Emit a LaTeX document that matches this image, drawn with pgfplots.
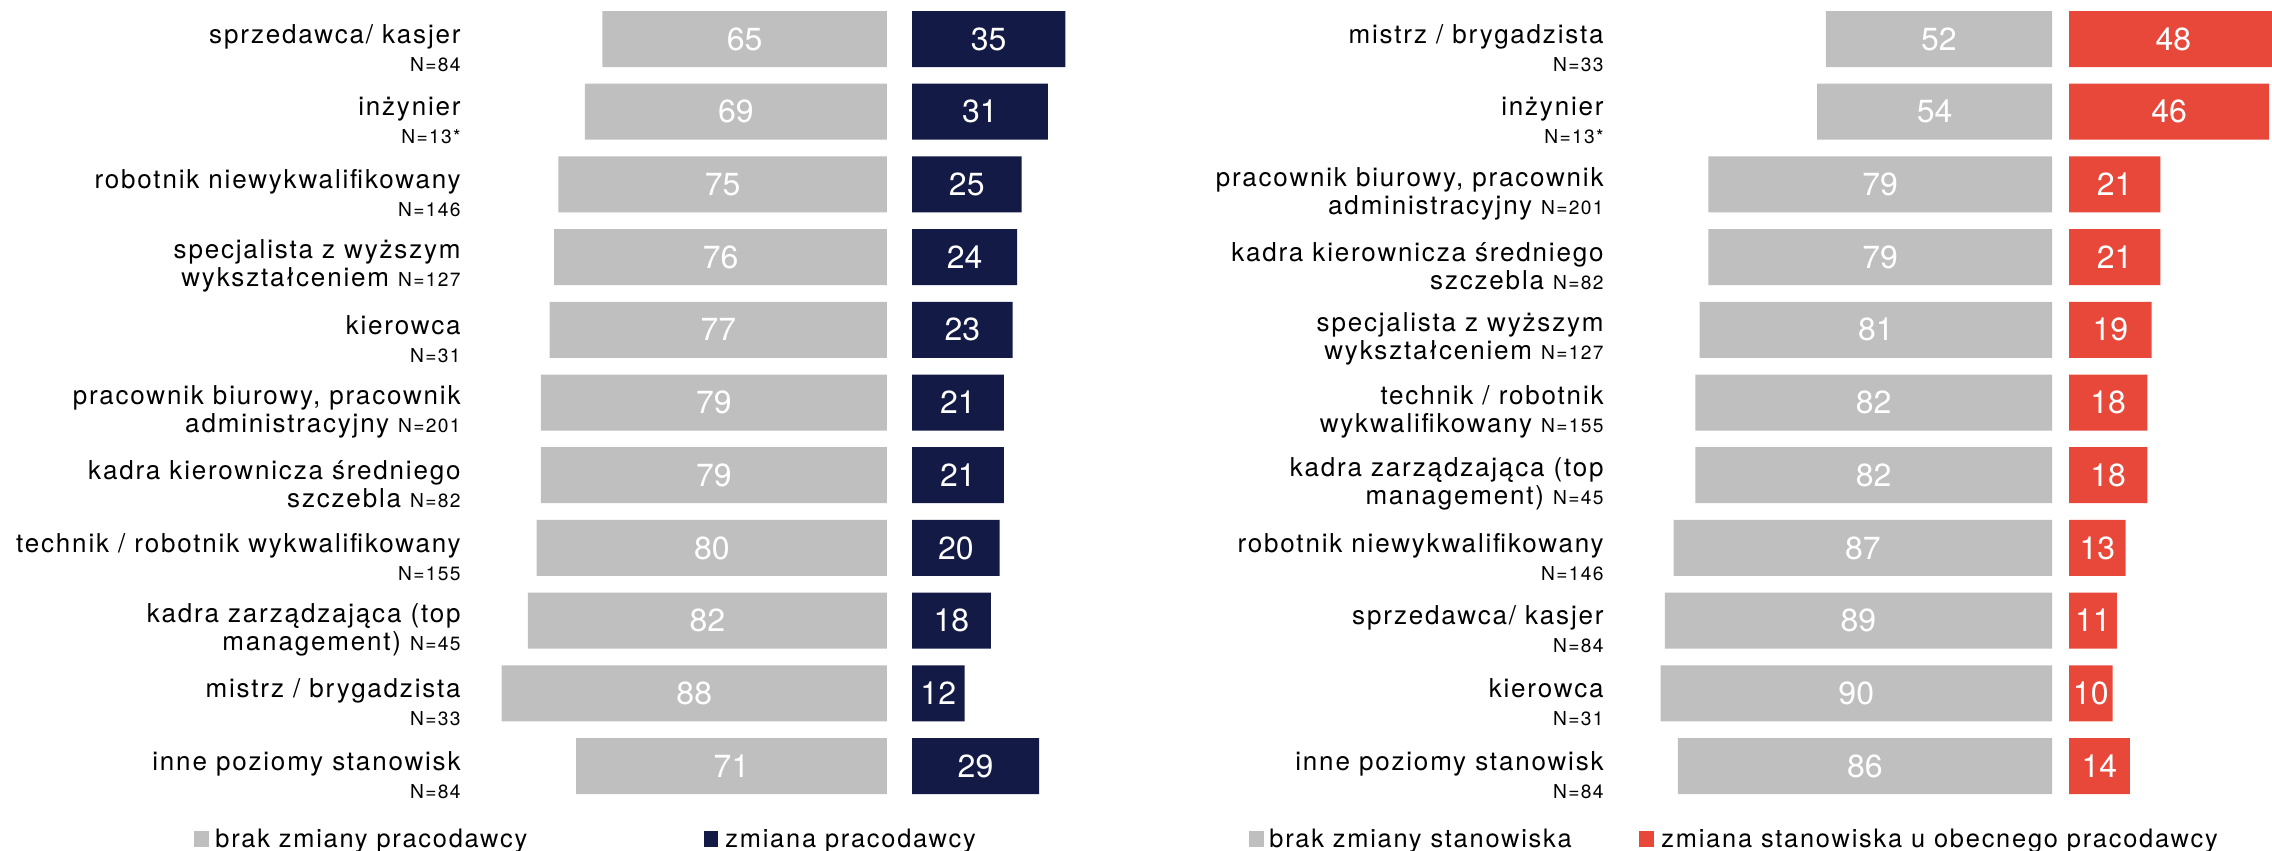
\documentclass[border=0pt]{standalone}
\usepackage{pgfplots}
\pgfplotsset{compat=1.18}
\usepackage{pgfplotstable}
\usepackage{fontspec}
\setmainfont{TeX Gyre Heros}[LetterSpace=7]
\newfontfamily\numfont{TeX Gyre Heros}
\definecolor{barGray}{HTML}{BFBFBF}
\definecolor{navy}{HTML}{131A45}
\definecolor{redbar}{HTML}{E8483A}
\newcommand\lab{\fontsize{13pt}{14pt}\selectfont}
\newcommand\nn{\fontsize{9.6pt}{13pt}\selectfont}
\newcommand\leg{\fontsize{12.7pt}{14pt}\selectfont}

% values in percent, rows in display order (top to bottom)
\pgfplotstableread{
idx g c
0 65 35
1 69 31
2 75 25
3 76 24
4 77 23
5 79 21
6 79 21
7 80 20
8 82 18
9 88 12
10 71 29
}\leftdata
\pgfplotstableread{
idx g c
0 52 48
1 54 46
2 79 21
3 79 21
4 81 19
5 82 18
6 82 18
7 87 13
8 89 11
9 90 10
10 86 14
}\rightdata

\pgfplotsset{
  panel/.style={scale only axis, anchor=north west, height=399.85pt,
    ymin=-0.5, ymax=10.5, y dir=reverse, axis line style={draw=none},
    major tick length=0pt, xtick=\empty, clip=false},
  lbls/.style={ytick={0,...,10},
    yticklabel style={align=right, anchor=east, inner sep=0pt, yshift=-4.5pt, font=\lab}},
  vals/.style={draw=none, nodes near coords, point meta=explicit symbolic,
    nodes near coords style={anchor=center, text=white, font=\numfont\fontsize{16pt}{18pt}\selectfont}},
}

\begin{document}
\begin{tikzpicture}
\useasboundingbox (0,0) rectangle (1136pt,-425.5pt);

% left panel: brak zmiany pracodawcy
\begin{axis}[panel, lbls, at={(230.5pt,-1.33pt)}, width=213pt, xmin=-97.26, xmax=0,
  yticklabels={{sprzedawca/ kasjer\\\nn N=84},{inżynier\\\nn N=13*},{robotnik niewykwalifikowany\\\nn N=146},
    {specjalista z wyższym\\wykształceniem {\nn N=127}},{kierowca\\\nn N=31},
    {pracownik biurowy, pracownik\\administracyjny {\nn N=201}},{kadra kierownicza średniego\\szczebla {\nn N=82}},
    {technik / robotnik wykwalifikowany\\\nn N=155},{kadra zarządzająca (top\\management) {\nn N=45}},
    {mistrz / brygadzista\\\nn N=33},{inne poziomy stanowisk\\\nn N=84}}]
\addplot[xbar, bar width=28pt, fill=barGray, draw=none] table[x expr=-\thisrow{g}, y=idx]{\leftdata};
\addplot[vals] table[x expr=-\thisrow{g}/2, y=idx, meta=g]{\leftdata};
\end{axis}
% left panel: zmiana pracodawcy
\begin{axis}[panel, ytick=\empty, at={(456pt,-1.33pt)}, width=87.6pt, xmin=0, xmax=40]
\addplot[xbar, bar width=28pt, fill=navy, draw=none] table[x=c, y=idx]{\leftdata};
\addplot[vals] table[x expr=\thisrow{c}/2, y=idx, meta=c]{\leftdata};
\end{axis}

% right panel: brak zmiany stanowiska
\begin{axis}[panel, lbls, at={(802pt,-1.33pt)}, width=224pt, xmin=-103, xmax=0,
  yticklabels={{mistrz / brygadzista\\\nn N=33},{inżynier\\\nn N=13*},
    {pracownik biurowy, pracownik\\administracyjny {\nn N=201}},{kadra kierownicza średniego\\szczebla {\nn N=82}},
    {specjalista z wyższym\\wykształceniem {\nn N=127}},{technik / robotnik\\wykwalifikowany {\nn N=155}},
    {kadra zarządzająca (top\\management) {\nn N=45}},{robotnik niewykwalifikowany\\\nn N=146},
    {sprzedawca/ kasjer\\\nn N=84},{kierowca\\\nn N=31},{inne poziomy stanowisk\\\nn N=84}}]
\addplot[xbar, bar width=28pt, fill=barGray, draw=none] table[x expr=-\thisrow{g}, y=idx]{\rightdata};
\addplot[vals] table[x expr=-\thisrow{g}/2, y=idx, meta=g]{\rightdata};
\end{axis}
% right panel: zmiana stanowiska u obecnego pracodawcy
\begin{axis}[panel, ytick=\empty, at={(1034.5pt,-1.33pt)}, width=108.75pt, xmin=0, xmax=50]
\addplot[xbar, bar width=28pt, fill=redbar, draw=none] table[x=c, y=idx]{\rightdata};
\addplot[vals] table[x expr=\thisrow{c}/2, y=idx, meta=c]{\rightdata};
\end{axis}

% legends
\fill[barGray] (97pt,-415.5pt) rectangle (104.5pt,-423.5pt);
\node[anchor=base west, inner sep=0pt, font=\leg] at (107.5pt,-423.5pt) {brak zmiany pracodawcy};
\fill[navy] (352pt,-415.5pt) rectangle (359pt,-423.5pt);
\node[anchor=base west, inner sep=0pt, font=\leg] at (362.5pt,-423.5pt) {zmiana pracodawcy};
\fill[barGray] (624.5pt,-415.5pt) rectangle (632pt,-423.5pt);
\node[anchor=base west, inner sep=0pt, font=\leg] at (634.5pt,-423.5pt) {brak zmiany stanowiska};
\fill[redbar] (819.5pt,-415.5pt) rectangle (827pt,-423.5pt);
\node[anchor=base west, inner sep=0pt, font=\leg] at (830.5pt,-423.5pt) {zmiana stanowiska u obecnego pracodawcy};
\end{tikzpicture}
\end{document}
